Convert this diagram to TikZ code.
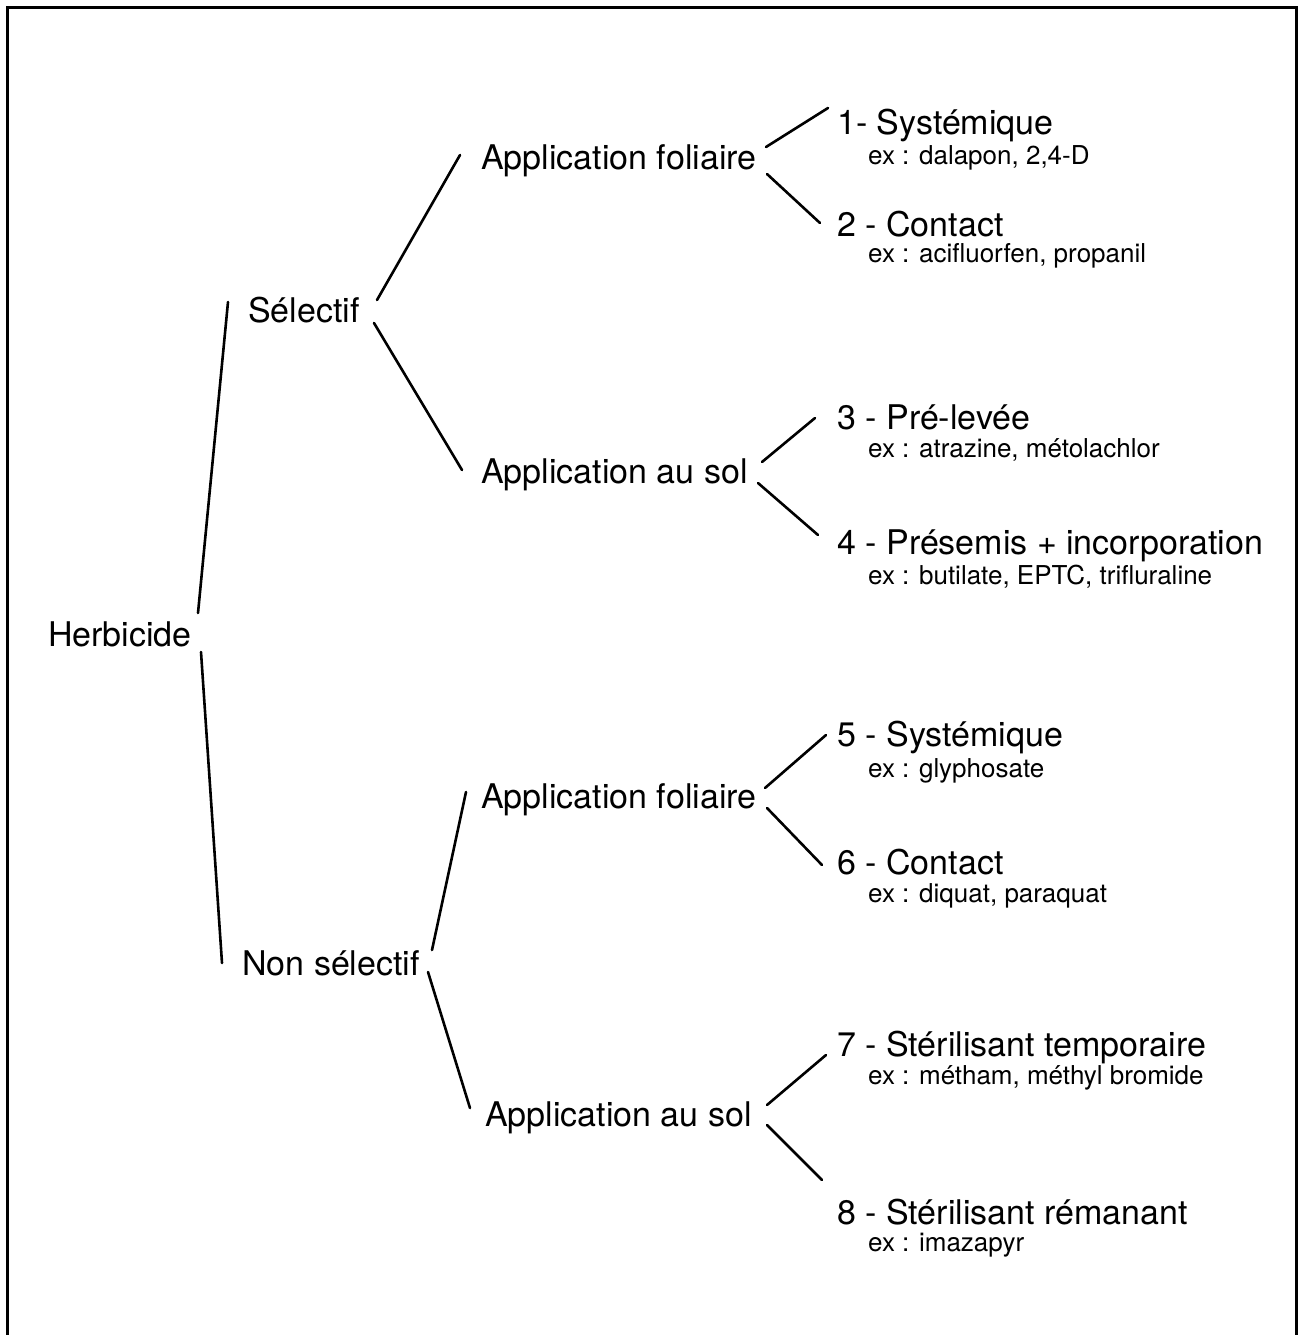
\documentclass[tikz,border=0pt]{standalone}
\usepackage{fontspec}
\setmainfont{TeX Gyre Heros}
\begin{document}
\begin{tikzpicture}[x=1pt,y=-1pt,
  lbl/.style={anchor=base west,inner sep=0pt,font=\fontsize{34}{40}\selectfont},
  sub/.style={anchor=base west,inner sep=0pt,font=\fontsize{26}{30}\selectfont},
  conn/.style={line width=2.6pt,line cap=round},
  frame/.style={line width=3pt}]
\useasboundingbox (0,0) rectangle (1305,1335);
\draw[frame] (7,1335) -- (7,8) -- (1296,8) -- (1296,1335);

% main labels
\node[lbl] (herb) at (48,646) {Herbicide};
\node[lbl] (sel) at (248,322) {Sélectif};
\node[lbl] (nsel) at (242,975) {Non sélectif};
\node[lbl] (af1) at (481,169) {Application foliaire};
\node[lbl] (as1) at (481,483) {Application au sol};
\node[lbl] (af2) at (481,808) {Application foliaire};
\node[lbl] (as2) at (485,1126) {Application au sol};

\node[lbl] (n1) at (837,135) {1- Systémique};
\node[sub] (s1) at (868,164) {ex : dalapon, 2,4-D};
\node[lbl] (n2) at (837,236) {2 - Contact};
\node[sub] (s2) at (868,262) {ex : acifluorfen, propanil};
\node[lbl] (n3) at (837,429) {3 - Pré-levée};
\node[sub] (s3) at (868,457) {ex : atrazine, métolachlor};
\node[lbl] (n4) at (837,554) {4 - Présemis + incorporation};
\node[sub] (s4) at (868,584) {ex : butilate, EPTC, trifluraline};
\node[lbl] (n5) at (837,746) {5 - Systémique};
\node[sub] (s5) at (868,777) {ex : glyphosate};
\node[lbl] (n6) at (837,874) {6 - Contact};
\node[sub] (s6) at (868,902) {ex : diquat, paraquat};
\node[lbl] (n7) at (837,1056) {7 - Stérilisant temporaire};
\node[sub] (s7) at (868,1084) {ex : métham, méthyl bromide};
\node[lbl] (n8) at (837,1224) {8 - Stérilisant rémanant};
\node[sub] (s8) at (868,1251) {ex : imazapyr};

% connector end points
\coordinate (hA) at (198,613);   \coordinate (selA) at (228,302);
\coordinate (hB) at (201,652);   \coordinate (nselA) at (222,963);
\coordinate (selB) at (377,300); \coordinate (af1A) at (460,155);
\coordinate (selC) at (374,323); \coordinate (as1A) at (462,470);
\coordinate (nselB) at (432,950);\coordinate (af2A) at (466,792);
\coordinate (nselC) at (428,972);\coordinate (as2A) at (470,1108);
\coordinate (af1B) at (766,147); \coordinate (n1A) at (828,108);
\coordinate (af1C) at (767,174); \coordinate (n2A) at (820,223);
\coordinate (as1B) at (762,462); \coordinate (n3A) at (815,418);
\coordinate (as1C) at (758,483); \coordinate (n4A) at (818,535);
\coordinate (af2B) at (765,788); \coordinate (n5A) at (826,735);
\coordinate (af2C) at (767,808); \coordinate (n6A) at (822,865);
\coordinate (as2B) at (767,1105);\coordinate (n7A) at (826,1055);
\coordinate (as2C) at (767,1125);\coordinate (n8A) at (822,1180);

\draw[conn] (hA) -- (selA);
\draw[conn] (hB) -- (nselA);
\draw[conn] (selB) -- (af1A);
\draw[conn] (selC) -- (as1A);
\draw[conn] (nselB) -- (af2A);
\draw[conn] (nselC) -- (as2A);
\draw[conn] (af1B) -- (n1A);
\draw[conn] (af1C) -- (n2A);
\draw[conn] (as1B) -- (n3A);
\draw[conn] (as1C) -- (n4A);
\draw[conn] (af2B) -- (n5A);
\draw[conn] (af2C) -- (n6A);
\draw[conn] (as2B) -- (n7A);
\draw[conn] (as2C) -- (n8A);
\end{tikzpicture}
\end{document}
